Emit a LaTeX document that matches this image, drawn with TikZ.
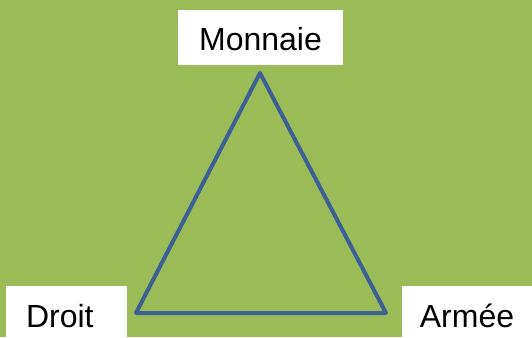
\documentclass[tikz,border=0pt]{standalone}
\usepackage{fontspec}
\setmainfont{Liberation Sans}
\usepackage{tikz}
\usetikzlibrary{positioning}
\usepackage{xcolor}
\definecolor{Leaf}{HTML}{9BBB59}
\definecolor{Steel}{HTML}{3D5F95}
\tikzset{
  label/.style={fill=white, draw=none, inner sep=0pt, align=center, text depth=0pt, font=\fontsize{32}{36}\selectfont},
  side/.style={draw=Steel, line width=4pt, line join=round}
}
\begin{document}
\begin{tikzpicture}[x=1pt, y=-1pt]
\fill[Leaf] (0,0) rectangle (532,337);
\useasboundingbox (0,0) rectangle (532,337);
\node[label, minimum width=165pt, minimum height=55pt, text height=27pt] (monnaie) at (260.5,37.5) {Monnaie};
\node[label, minimum width=121pt, minimum height=51pt, text height=31pt, text width=81pt, align=left] (droit) at (66.5,311.5) {Droit};
\node[label, minimum width=130pt, minimum height=51pt, text height=31pt] (armee) at (467,311.5) {Armée};
\coordinate (top) at (260,73);
\coordinate (left) at (136,313);
\coordinate (right) at (386,313);
\draw[side] (top) -- (left) -- (right) -- cycle;
\end{tikzpicture}
\end{document}
